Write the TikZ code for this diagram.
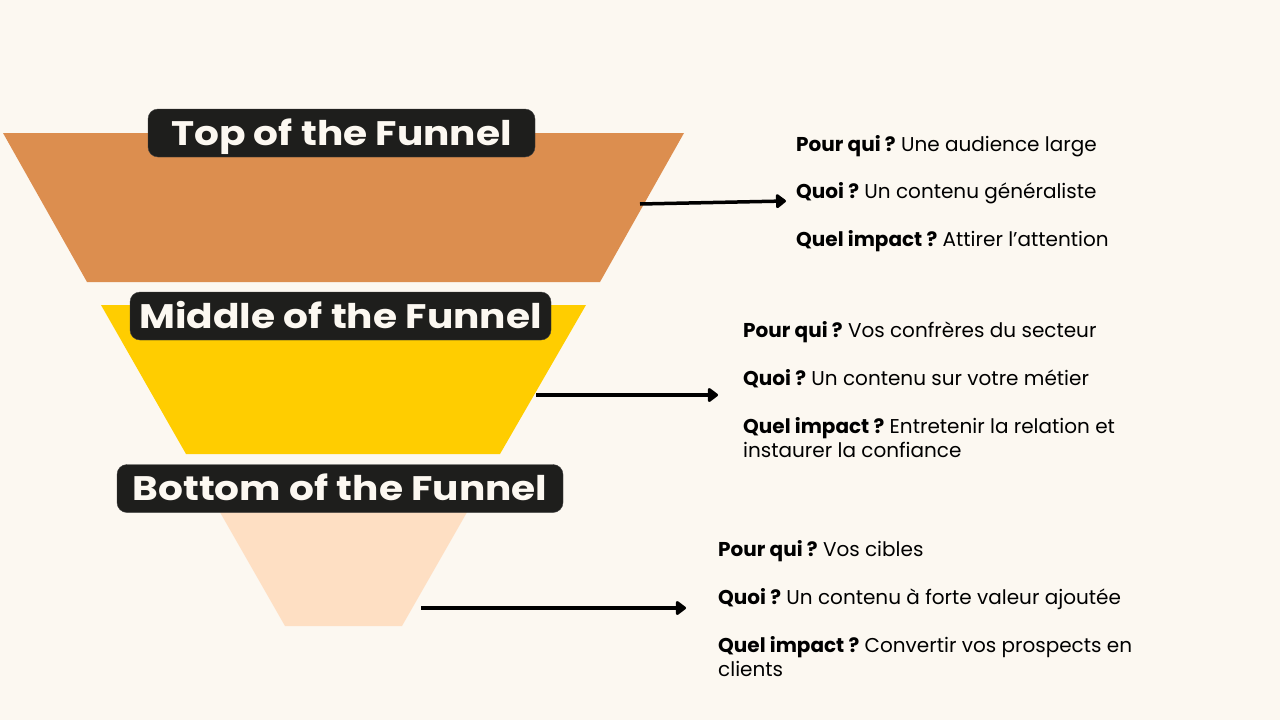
\documentclass[tikz,border=0pt]{standalone}
\usepackage{fontspec}
\setmainfont{Poppins}
\usetikzlibrary{arrows.meta}
\definecolor{cream}{HTML}{FCF8F1}
\definecolor{tofcol}{HTML}{DC8E4F}
\definecolor{mofcol}{HTML}{FFCD00}
\definecolor{bofcol}{HTML}{FEDFC3}
\definecolor{boxcol}{HTML}{1E1E1C}
\newcommand{\widetitle}[1]{\scalebox{1.15}[1]{#1}}
\frenchspacing
\begin{document}
\begin{tikzpicture}[x=1pt, y=-1pt,
    stagebox/.style={rectangle, rounded corners=10pt, fill=boxcol, draw=black!75, text=cream,
      font=\fontsize{34}{40}\selectfont\bfseries, minimum height=48pt, inner sep=0pt,
      text height=24pt, text depth=0pt},
    info/.style={anchor=base west, inner sep=0pt, font=\fontsize{20}{24}\selectfont},
    arr/.style={line width=3.5pt, -{Triangle[length=11pt,width=16pt,round]}}]
  \fill[cream] (0,0) rectangle (1280,720);
  \useasboundingbox (0,0) rectangle (1280,720);
  % Funnel slices
  \fill[tofcol] (3,133) -- (684,133) -- (600,282) -- (87,282) -- cycle;
  \fill[mofcol] (101,305) -- (586,305) -- (500,454) -- (186,454) -- cycle;
  \fill[bofcol] (213,500) -- (474,500) -- (402,626) -- (285,626) -- cycle;
  % Stage labels
  \node[stagebox, minimum width=387pt] (tof) at (341.5,133) {\widetitle{Top of the Funnel}};
  \node[stagebox, minimum width=421pt] (mof) at (340.5,316) {\widetitle{Middle of the Funnel}};
  \node[stagebox, minimum width=446pt] (bof) at (340,488.5) {\widetitle{Bottom of the Funnel}};
  % Top text
  \node[info] (tofwho) at (796,151) {\textbf{Pour qui ?} Une audience large};
  \node[info] (tofwhat) at (796,198) {\textbf{Quoi ?} Un contenu généraliste};
  \node[info] (tofimpact) at (796,246) {\textbf{Quel impact ?} Attirer l’attention};
  % Middle text
  \node[info] (mofwho) at (743,337) {\textbf{Pour qui ?} Vos confrères du secteur};
  \node[info] (mofwhat) at (743,385) {\textbf{Quoi ?} Un contenu sur votre métier};
  \node[info, align=left] (mofimpact) at (743,457) {\textbf{Quel impact ?} Entretenir la relation et\\instaurer la confiance};
  % Bottom text
  \node[info] (bofwho) at (718,556) {\textbf{Pour qui ?} Vos cibles};
  \node[info] (bofwhat) at (718,604) {\textbf{Quoi ?} Un contenu à forte valeur ajoutée};
  \node[info, align=left] (bofimpact) at (718,676) {\textbf{Quel impact ?} Convertir vos prospects en\\clients};
  % Arrows
  \coordinate (tofsrc) at (640,204);
  \coordinate (tofdst) at (786,201);
  \coordinate (mofsrc) at (536,395);
  \coordinate (mofdst) at (718,395);
  \coordinate (bofsrc) at (421,608);
  \coordinate (bofdst) at (686,608);
  \draw[arr] (tofsrc) -- (tofdst);
  \draw[arr] (mofsrc) -- (mofdst);
  \draw[arr] (bofsrc) -- (bofdst);
\end{tikzpicture}
\end{document}
